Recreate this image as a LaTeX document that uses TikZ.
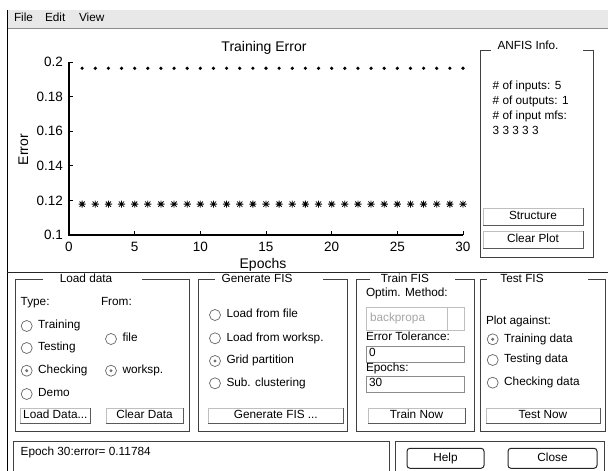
\documentclass[tikz,border=0pt]{standalone}
\usepackage{fontspec}
\setmainfont{Liberation Sans}
\usetikzlibrary{positioning}
\tikzset{
  starmark/.pic={\draw[line width=0.8pt] (-3.6pt,0) -- (3.6pt,0) (0,-3.6pt) -- (0,3.6pt)
    (-2.6pt,-2.6pt) -- (2.6pt,2.6pt) (-2.6pt,2.6pt) -- (2.6pt,-2.6pt);}
}
\begin{document}
\begin{tikzpicture}[
    x=1pt, y=-1pt,
    gui/.style={font=\fontsize{11.8}{13}\selectfont, inner sep=0pt, outer sep=0pt,
                text height=8pt, text depth=2.3pt},
    lbl/.style={gui, anchor=west},
    plotfont/.style={font=\fontsize{14}{16}\selectfont, inner sep=0pt},
    ticklbl/.style={font=\fontsize{13.5}{15}\selectfont, inner sep=0pt},
    frame/.style={draw=black!75, line width=0.9pt},
    radio/.style={circle, draw=black!60, fill=white, line width=0.7pt,
                  minimum size=11pt, inner sep=0pt, outer sep=0pt},
    picked/.style={radio, path picture={\fill[black!55]
                  (path picture bounding box.center) circle (1.7pt);}},
    btn/.style={gui, rectangle, draw=black!25, line width=0.5pt, fill=white,
                minimum height=15pt},
    btnedge/.style={black!65, line width=1pt},
    field/.style={rectangle, draw=black!45, line width=0.6pt, fill=white,
                  minimum width=98.5pt, minimum height=16pt, inner sep=0pt, outer sep=0pt},
    roundbtn/.style={gui, rectangle, rounded corners=3pt, draw=black!85,
                  line width=1pt, minimum height=20pt},
]
\useasboundingbox (0,0) rectangle (608,471);
\clip (0,0) rectangle (608,471);

% Window edge and menu bar.
\fill[black!9] (7,10) rectangle (608,28);
\draw[black!45] (7,28) -- (608,28);
\draw[line width=1.5pt] (7.3,10) -- (7.3,475);
\node[lbl] (mFile) at (14,19) {File};
\node[lbl] (mEdit) at (45,19) {Edit};
\node[lbl] (mView) at (79,19) {View};

% Training error plot.
\begin{scope}[shift={(69,408)}, x=13.133pt, y=1730pt]
  \draw[line width=1.1pt] (0,0.2) -- (0,0.1) -- (30,0.1);
  \foreach \v/\i in {0.1/0, 0.12/1, 0.14/2, 0.16/3, 0.18/4, 0.2/5} {
    \draw[line width=0.8pt] (0,\v) -- ++(4pt,0);
    \node[ticklbl, anchor=east, xshift=-6pt] (yl\i) at (0,\v) {\v};
  }
  \foreach \e in {0,5,...,30} {
    \draw[line width=0.8pt] (\e,0.1) -- ++(0,4pt);
    \node[ticklbl, yshift=-12pt] (xl\e) at (\e,0.1) {\e};
  }
  \foreach \e in {1,...,30} {
    \fill (\e,0.19636) circle (1.8pt);
    \pic at (\e,0.11784) {starmark};
  }
\end{scope}
\node[plotfont] (title) at (264,48) {Training Error};
\node[plotfont] (xlab) at (263,265) {Epochs};
\node[plotfont, rotate=90] (ylab) at (23.5,149.5) {Error};

% ANFIS info panel.
\draw[frame] (490.7,50) -- (480,50) -- (480,257) -- (593,257) -- (593,50) -- (582.7,50);
\node[gui] (tInfo) at (528,47) {ANFIS Info.};
\node[lbl] (iIn)  at (492.7,86.7)  {\# of inputs: 5};
\node[lbl] (iOut) at (492.7,101.7) {\# of outputs: 1};
\node[lbl] (iMf)  at (492.7,116.7) {\# of input mfs:};
\node[lbl] (iNum) at (492.7,131.7) {3 3 3 3 3};
\node[btn, minimum width=100pt, minimum height=17pt] (bStruct) at (533,216.5) {Structure};
\node[btn, minimum width=100pt, minimum height=17pt] (bClearPlot) at (533,239.5) {Clear Plot};

% Divider between plot and controls.
\draw[line width=1.5pt, black!85] (7,272.5) -- (608,272.5);

% Control panels: left edge / right edge / title gap.
\foreach \xa/\xb/\ga/\gb in {15/189/43/142, 198/347/215/323, 356/474/370/455, 480/605/487/588} {
  \draw[frame] (\ga,279) -- (\xa,279) -- (\xa,431.7) -- (\xb,431.7) -- (\xb,279) -- (\gb,279);
}
\node[gui] (tLoad) at (86,280) {Load data};
\node[gui] (tGen) at (257,280) {Generate FIS};
\node[gui] (tTrain) at (405,280) {Train FIS};
\node[gui] (tTest) at (522,280) {Test FIS};

% Load data.
\node[lbl] (lType) at (20.7,302.7) {Type:};
\node[lbl] (lFrom) at (101,302.7) {From:};
\foreach \n/\s/\x/\y/\t in {rTrain/radio/26.7/326/Training, rTest/radio/26.7/348/Testing,
    rCheck/picked/26.7/370.7/Checking, rDemo/radio/26.7/394/Demo,
    rFile/radio/111/339/file, rWork/picked/111/370.7/worksp.,
    gFile/radio/215/315/Load from file, gWork/radio/215/338.3/Load from worksp.,
    gGrid/picked/215/361/Grid partition, gSub/radio/215/383.3/Sub. clustering,
    tTr/picked/492.7/339.3/Training data, tTe/radio/492.7/360/Testing data,
    tCh/radio/492.7/382.7/Checking data} {
  \node[\s] (\n) at (\x,\y) {};
  \node[lbl, right=6pt of \n] (\n-t) {\t};
}
\node[btn, minimum width=70.7pt] (bLoad) at (55.35,415.5) {Load Data...};
\node[btn, minimum width=77pt] (bClear) at (144.5,415.5) {Clear Data};

% Generate FIS.
\node[btn, minimum width=135pt] (bGen) at (275.8,415.5) {Generate FIS ...};

% Train FIS.
\node[lbl] (lOptim) at (366,294) {Optim. Method:};
\node[field, minimum height=23pt, draw=black!25] (dMethod) at (415.25,318.5) {};
\draw[black!25, line width=0.6pt] ([xshift=-17.5pt]dMethod.north east) -- ([xshift=-17.5pt]dMethod.south east);
\node[lbl, text=black!35, right=4pt of dMethod.west] (dText) {backpropa};
\node[lbl] (lTol) at (366,338) {Error Tolerance:};
\node[field] (fTol) at (415.25,354) {};
\node[lbl, right=3pt of fTol.west] (fTolv) {0};
\node[lbl] (lEp) at (366,368.5) {Epochs:};
\node[field] (fEp) at (415.25,384) {};
\node[lbl, right=3pt of fEp.west] (fEpv) {30};
\node[btn, minimum width=97pt] (bTrain) at (416.5,415.5) {Train Now};

% Test FIS.
\node[lbl] (lPlot) at (486,321.7) {Plot against:};
\node[btn, minimum width=114pt] (bTestNow) at (543,415.5) {Test Now};

\foreach \b in {bLoad,bClear,bGen,bTrain,bTestNow,bStruct,bClearPlot}
  \draw[btnedge] (\b.south west) -- (\b.south east) -- (\b.north east);

% Status line and help/close.
\draw[frame] (13,475) -- (13,441.7) -- (389,441.7) -- (389,475);
\node[lbl] (status) at (20.7,453) {Epoch 30:error= 0.11784};
\draw[frame] (395,475) -- (395,441.7) -- (604,441.7) -- (604,475);
\node[roundbtn, minimum width=77pt] (bHelp) at (445.5,458.3) {Help};
\node[roundbtn, minimum width=89pt] (bClose) at (552.5,458.3) {Close};
\end{tikzpicture}
\end{document}
